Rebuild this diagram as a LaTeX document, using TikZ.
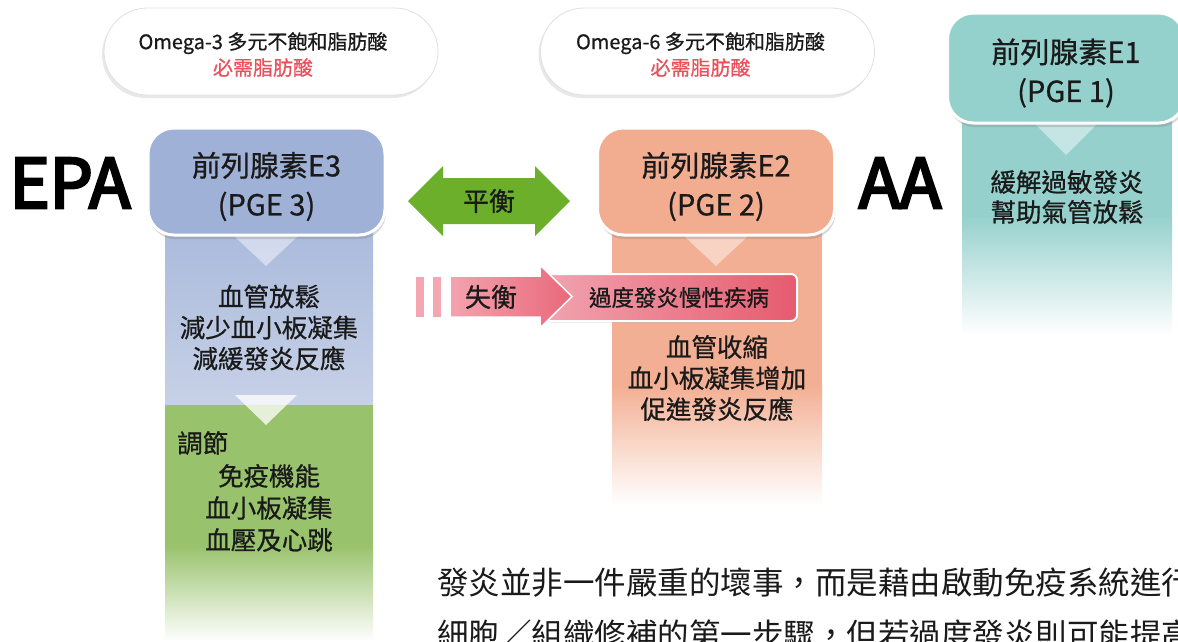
\documentclass[tikz,border=0pt]{standalone}
\usepackage{fontspec}
\setmainfont{Noto Sans CJK TC}[FakeBold=0.7]
\newfontfamily\epafont{Noto Sans CJK TC}[FakeBold=4]
\newfontfamily\paratext{Noto Sans CJK TC}
\usetikzlibrary{shadows,shapes.misc}
\definecolor{blueBox}{HTML}{9FB1D6}
\definecolor{blueCol}{HTML}{A6B7DA}
\definecolor{blueColL}{HTML}{C7D1E7}
\definecolor{greenCol}{HTML}{98C26B}
\definecolor{salmonBox}{HTML}{F2AD91}
\definecolor{salmonCol}{HTML}{F3AF93}
\definecolor{tealBox}{HTML}{94D1CD}
\definecolor{tealCol}{HTML}{95D0CC}
\definecolor{arrowGreen}{HTML}{6BAF2B}
\definecolor{txtRed}{HTML}{E9525C}
\definecolor{arrL}{HTML}{F3A3AE}
\definecolor{arrR}{HTML}{E9687A}
\definecolor{boxL}{HTML}{F1A3AF}
\definecolor{boxR}{HTML}{E65B6F}
\definecolor{stripeC}{HTML}{F4A6B1}
\definecolor{ink}{HTML}{1A1A1A}
\newcommand{\dropby}[2]{\raisebox{-#1}[\height][\depth]{#2}}
\begin{document}
\begin{tikzpicture}[x=1pt,y=-1pt,
  titlebox/.style={draw=white, line width=3pt, rounded corners=26pt, minimum width=237pt,
    minimum height=107pt, align=center, inner sep=0pt, text=ink,
    font=\fontsize{29}{39}\selectfont,
    drop shadow={opacity=0.3, shadow xshift=1pt, shadow yshift=-4pt}},
  pill/.style={draw=black!12, line width=0.8pt, fill=white, rounded rectangle,
    minimum width=334pt, minimum height=87pt, align=center, inner sep=0pt, text=ink,
    font=\fontsize{20}{26}\selectfont,
    drop shadow={opacity=0.18, shadow xshift=-2pt, shadow yshift=-3pt}},
  bodytext/.style={align=center, inner sep=0pt, text=ink, font=\fontsize{25.5}{31}\selectfont},
  bigtext/.style={inner sep=0pt, text=black, font=\epafont\fontsize{68}{68}\selectfont},
  labeltext/.style={inner sep=0pt, text=ink, font=\fontsize{26}{26}\selectfont}
]
\path[use as bounding box] (0,0) rectangle (1178,641);
\clip (0,0) rectangle (1178,641);
\fill[white] (0,0) rectangle (1178,641);

% columns
\shade[top color=blueCol, bottom color=blueColL] (165,200) rectangle (373,405);
\fill[greenCol] (165,405) rectangle (373,545);
\shade[top color=greenCol, bottom color=white] (165,545) rectangle (373,641);
\fill[salmonCol] (612,200) rectangle (822,385);
\shade[top color=salmonCol, bottom color=white] (612,385) rectangle (822,505);
\fill[tealCol] (962,100) rectangle (1172,215);
\shade[top color=tealCol, bottom color=white] (962,215) rectangle (1172,335);

% pointers
\fill[white, opacity=0.45] (234,236) -- (298,236) -- (266,266) -- cycle;
\fill[white, opacity=0.45] (684,236) -- (748,236) -- (716,266) -- cycle;
\fill[white, opacity=0.45] (1034,123) -- (1098,123) -- (1066,155) -- cycle;
\fill[white, opacity=0.75] (235,395) -- (297,395) -- (266,425) -- cycle;

% title boxes
\node[titlebox, fill=blueBox] (pge3) at (266.5,181.5) {\dropby{5pt}{\parbox{220pt}{\centering 前列腺素E3\\(PGE 3)}}};
\node[titlebox, fill=salmonBox] (pge2) at (716,181.5) {\dropby{5pt}{\parbox{220pt}{\centering 前列腺素E2\\(PGE 2)}}};
\node[titlebox, fill=tealBox, minimum height=110pt] (pge1) at (1066,68) {\dropby{5pt}{\parbox{220pt}{\centering 前列腺素E1\\(PGE 1)}}};

% pills
\node[pill] (om3) at (271,51.5) {\dropby{3pt}{\parbox{250pt}{\centering \hspace*{-16pt}Omega-3 多元不飽和脂肪酸\\\hspace*{-16pt}\textcolor{txtRed}{必需脂肪酸}}}};
\node[pill] (om6) at (707.5,51.5) {\dropby{3pt}{\parbox{250pt}{\centering \hspace*{-14pt}Omega-6 多元不飽和脂肪酸\\\hspace*{-14pt}\textcolor{txtRed}{必需脂肪酸}}}};

% big labels
\node[bigtext] (epa) at (70,183) {EPA};
\node[bigtext] (aa) at (900,183) {AA};

% balance arrow
\fill[arrowGreen] (408,201) -- (443,166) -- (443,178) -- (535,178) -- (535,166) -- (570,201)
  -- (535,236) -- (535,224) -- (443,224) -- (443,236) -- cycle;
\node[labeltext] (bal) at (489,201) {平衡};

% imbalance arrow
\fill[stripeC] (416,277) rectangle (424,317);
\fill[stripeC] (433,277) rectangle (441,317);
\node[rounded corners=6pt, draw=white, line width=2pt, left color=boxL, right color=boxR,
  minimum width=252pt, minimum height=47pt, inner sep=0pt, text=ink,
  font=\fontsize{22.5}{22.5}\selectfont,
  drop shadow={opacity=0.15, shadow xshift=1pt, shadow yshift=-2pt}] (chronic) at (671,297.5)
  {\hspace*{16pt}過度發炎慢性疾病};
\shadedraw[left color=arrL, right color=arrR, draw=white, line width=1.5pt]
  (450,276) -- (540,276) -- (540,265) -- (572,296.5) -- (540,328) -- (540,317) -- (450,317) -- cycle;
\node[labeltext] (imb) at (491,297) {失衡};

% column texts
\node[bodytext] (t3) at (269,327.5) {血管放鬆\\減少血小板凝集\\減緩發炎反應};
\node[bodytext, anchor=west] (adj) at (177,443) {調節};
\node[bodytext, font=\fontsize{25.5}{32}\selectfont] (g3) at (269,508) {免疫機能\\血小板凝集\\血壓及心跳};
\node[bodytext] (t2) at (717,378) {血管收縮\\血小板凝集增加\\促進發炎反應};
\node[bodytext, font=\fontsize{25.5}{30}\selectfont] (t1) at (1067,197) {緩解過敏發炎\\幫助氣管放鬆};

% paragraph
\node[anchor=west, align=left, inner sep=0pt, text=ink, font=\paratext\fontsize{31.5}{52}\selectfont] (para) at (437,609)
  {發炎並非一件嚴重的壞事，而是藉由啟動免疫系統進行\\細胞／組織修補的第一步驟，但若過度發炎則可能提高};
\end{tikzpicture}
\end{document}
